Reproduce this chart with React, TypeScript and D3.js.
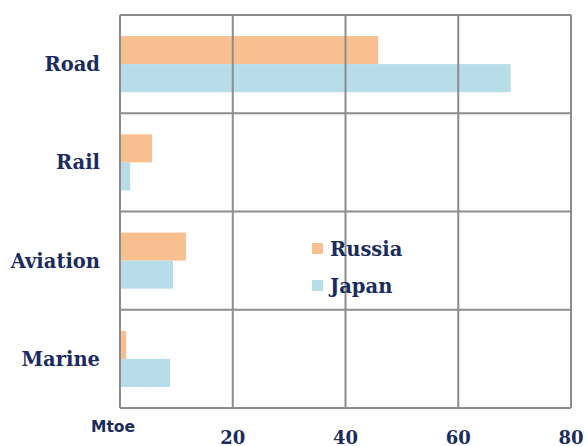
import React from "react";
import * as d3 from "d3";

const categories = ["Road", "Rail", "Aviation", "Marine"];
const seriesNames = ["Russia", "Japan"];
const russia = [45.8, 5.7, 11.7, 1.1];
const japan = [69.3, 1.8, 9.4, 8.9];
const ticks = [20, 40, 60, 80];
const colors = ["#F9C08F", "#B7DDE8"];

const W = 588, H = 446;
const left = 120, right = 571, top = 15, bottom = 408;
const navy = "#1B2B5E";
const serif = "'DejaVu Serif', serif";

export default function App() {
  const x = d3.scaleLinear().domain([0, 80]).range([left, right]);
  const y = d3.scaleBand().domain(categories).range([top, bottom]);
  const inner = d3.scaleBand().domain(seriesNames).range([0, y.bandwidth()]).paddingOuter(0.75).paddingInner(0);
  const values = [russia, japan];
  return (
    <svg width={W} height={H} style={{ position: "absolute", left: 0, top: 0 }}>
      <rect x={0} y={0} width={W} height={H} fill="#fff" />
      {categories.map((c, i) =>
        values.map((vals, s) => (
          <rect key={c + s} x={x(0)} y={(y(c) as number) + (inner(seriesNames[s]) as number)}
            width={x(vals[i]) - x(0)} height={inner.bandwidth()} fill={colors[s]} />
        ))
      )}
      {[0, ...ticks].map((t) => (
        <line key={"v" + t} x1={x(t)} x2={x(t)} y1={top} y2={bottom} stroke="#8C8C8C" strokeWidth={2} />
      ))}
      {[...categories.map((c) => y(c) as number), bottom].map((yy, i) => (
        <line key={"h" + i} x1={left} x2={right} y1={yy} y2={yy} stroke="#8C8C8C" strokeWidth={2} />
      ))}
      {categories.map((c) => (
        <text key={c} x={100} y={(y(c) as number) + y.bandwidth() / 2 + 7} textAnchor="end"
          fontFamily={serif} fontWeight="bold" fontSize={19.5} fill={navy}>{c}</text>
      ))}
      {ticks.map((t) => (
        <text key={t} x={x(t)} y={444} textAnchor="middle" fontFamily={serif} fontWeight="bold" fontSize={18} fill={navy}>{t}</text>
      ))}
      <text x={113} y={432} textAnchor="middle" fontFamily="'DejaVu Sans', sans-serif" fontWeight="bold" fontSize={15.5} fill={navy}>Mtoe</text>
      {seriesNames.map((n, s) => (
        <g key={n}>
          <rect x={312} y={243 + s * 37} width={11} height={11} fill={colors[s]} />
          <text x={330} y={256 + s * 37} fontFamily={serif} fontWeight="bold" fontSize={19.5} fill={navy}>{n}</text>
        </g>
      ))}
    </svg>
  );
}
